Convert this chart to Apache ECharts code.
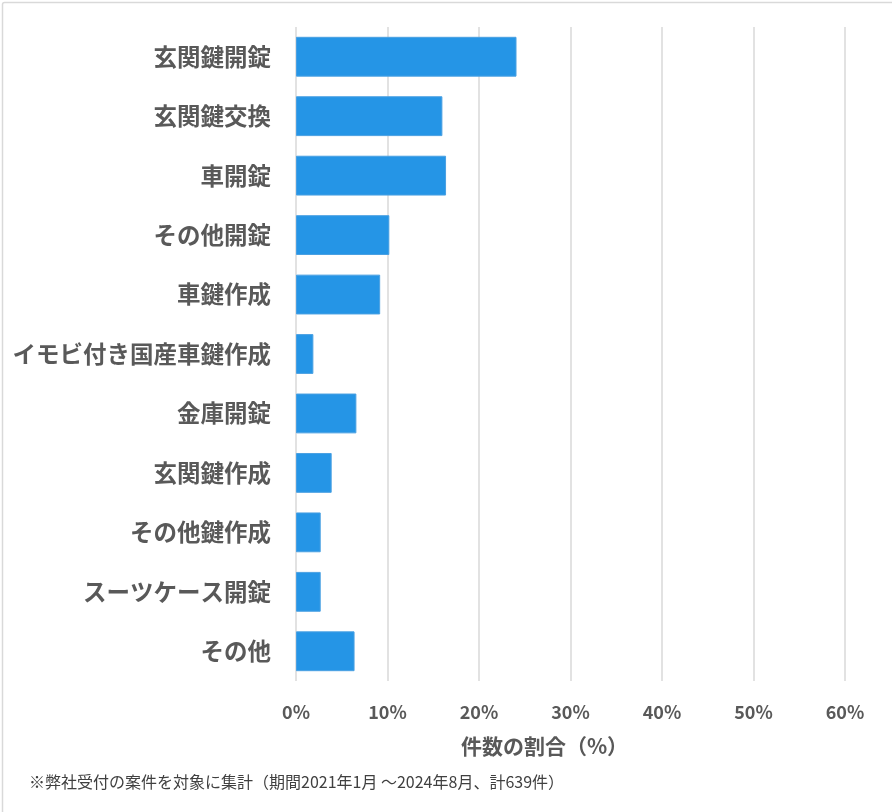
<!DOCTYPE html>
<html><head><meta charset="utf-8">
<script src="https://cdn.jsdelivr.net/npm/echarts@6/dist/echarts.min.js"></script>
<style>html,body{margin:0;padding:0;background:#fff}#c{width:892px;height:812px}</style>
</head><body><div id="c"></div>
<script>
const categories = ['玄関鍵開錠','玄関鍵交換','車開錠','その他開錠','車鍵作成','イモビ付き国産車鍵作成','金庫開錠','玄関鍵作成','その他鍵作成','スーツケース開錠','その他'];
const shares = [24.1, 16.0, 16.4, 10.2, 9.2, 1.9, 6.6, 3.9, 2.7, 2.7, 6.4];
const xTicks = [0, 10, 20, 30, 40, 50, 60];
const axisTitle = '件数の割合（%）';
const footnote = '※弊社受付の案件を対象に集計（期間2021年1月 ～2024年8月、計639件）';

const FONT = '"Noto Sans CJK JP", "Noto Sans", sans-serif';
const chart = echarts.init(document.getElementById('c'), null, {renderer: 'canvas'});
chart.setOption({
  animation: false,
  backgroundColor: '#fff',
  title: {
    text: footnote, left: 24, top: 769,
    textStyle: {fontFamily: FONT, fontSize: 16, fontWeight: 'normal', color: '#404040'}
  },
  graphic: [{
    type: 'rect', left: 0, top: 0,
    shape: {width: 891, height: 811, r: 2},
    style: {fill: 'none', stroke: '#d9d9d9', lineWidth: 1.5}, silent: true
  }],
  grid: {left: 296, right: 47, top: 27, bottom: 131, containLabel: false},
  xAxis: {
    type: 'value', min: xTicks[0], max: xTicks[xTicks.length - 1], interval: 10,
    axisLine: {show: false}, axisTick: {show: false},
    splitLine: {show: true, lineStyle: {color: '#d9d9d9', width: 1.5}},
    axisLabel: {formatter: v => v + '%', fontFamily: FONT, fontSize: 18, fontWeight: 'bold', color: '#595959', margin: 22},
    name: axisTitle, nameLocation: 'middle', nameGap: 55,
    nameTextStyle: {fontFamily: FONT, fontSize: 21, fontWeight: 'bold', color: '#595959', padding: [0, 52, 0, 0]}
  },
  yAxis: {
    type: 'category', data: categories, inverse: true,
    axisLine: {show: false}, axisTick: {show: false},
    axisLabel: {fontFamily: FONT, fontSize: 23.5, fontWeight: 'bold', color: '#595959', margin: 25}
  },
  series: [{
    type: 'bar', data: shares, barCategoryGap: '33%',
    itemStyle: {color: '#2595e6', borderColor: '#4aa0e2', borderWidth: 1}
  }]
});
</script></body></html>
